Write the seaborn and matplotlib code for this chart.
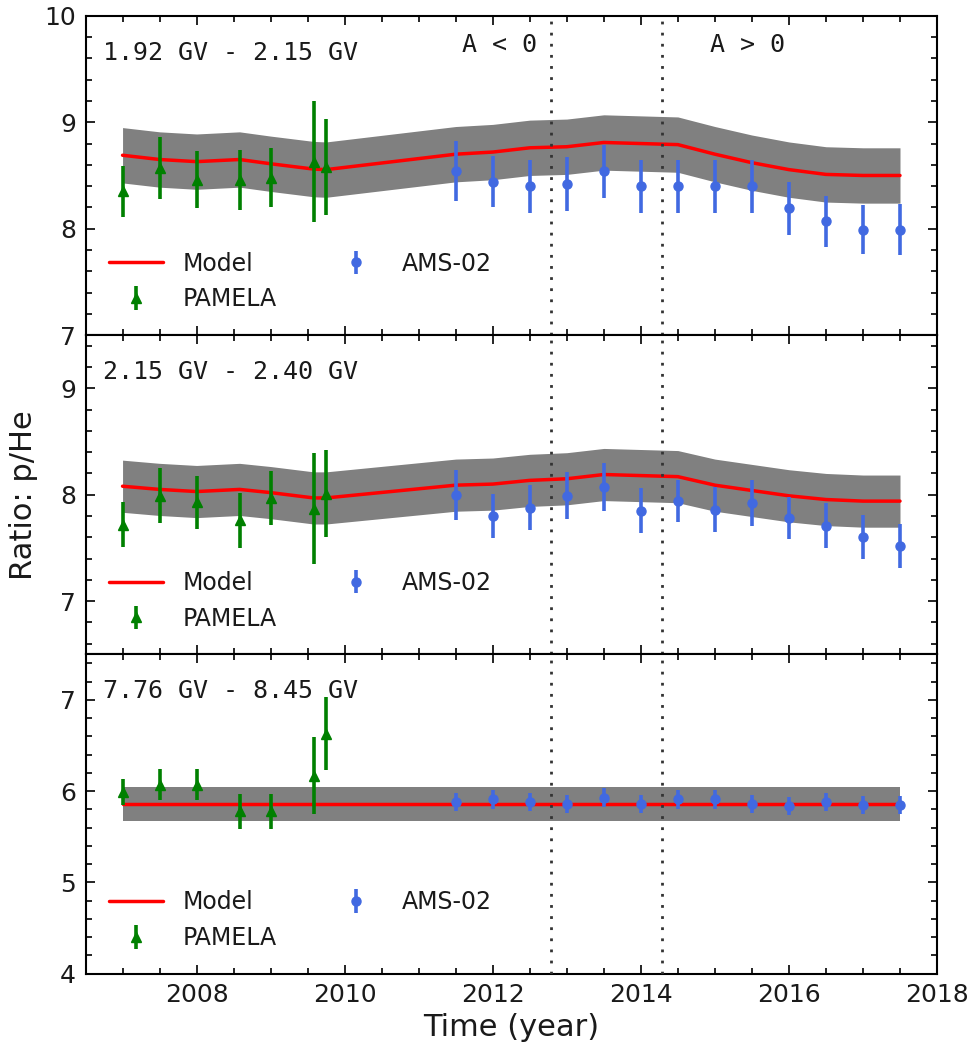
import numpy as np
import pandas as pd
import matplotlib
matplotlib.use('Agg')
import matplotlib.pyplot as plt
import seaborn as sns
from matplotlib.ticker import MultipleLocator

# observation times
t_pamela = [2007.0, 2007.5, 2008.0, 2008.58, 2009.0, 2009.58, 2009.75]
t_ams = [2011.5, 2012.0, 2012.5, 2013.0, 2013.5, 2014.0, 2014.5,
         2015.0, 2015.5, 2016.0, 2016.5, 2017.0, 2017.5]
t_model = t_pamela + t_ams

# panel 1: 1.92 - 2.15 GV
pam1 = [8.35, 8.57, 8.46, 8.46, 8.48, 8.63, 8.58]
pam1_err = [0.24, 0.29, 0.27, 0.28, 0.28, 0.57, 0.45]
ams1 = [8.54, 8.44, 8.40, 8.42, 8.54, 8.40, 8.40, 8.40, 8.40, 8.19, 8.07, 7.99, 7.99]
ams1_err = [0.28, 0.24, 0.25, 0.25, 0.25, 0.25, 0.25, 0.25, 0.25, 0.25, 0.24, 0.23, 0.24]
model1 = [8.69, 8.65, 8.63, 8.65, 8.61, 8.56, 8.555, 8.70, 8.72, 8.76,
          8.77, 8.81, 8.80, 8.79, 8.70, 8.62, 8.555, 8.51, 8.50, 8.50]
band1 = 0.26

# panel 2: 2.15 - 2.40 GV
pam2 = [7.72, 7.99, 7.93, 7.76, 7.97, 7.87, 8.01]
pam2_err = [0.21, 0.26, 0.25, 0.26, 0.25, 0.52, 0.41]
ams2 = [8.00, 7.80, 7.88, 7.99, 8.07, 7.85, 7.94, 7.86, 7.92, 7.78, 7.71, 7.60, 7.52]
ams2_err = [0.235, 0.21, 0.21, 0.22, 0.225, 0.21, 0.20, 0.21, 0.215, 0.20, 0.21, 0.205, 0.205]
model2 = [8.08, 8.05, 8.03, 8.05, 8.02, 7.97, 7.97, 8.09, 8.10, 8.135,
          8.15, 8.19, 8.18, 8.17, 8.09, 8.04, 7.99, 7.955, 7.94, 7.94]
band2 = 0.245

# panel 3: 7.76 - 8.45 GV
pam3 = [5.99, 6.07, 6.07, 5.78, 5.78, 6.17, 6.63]
pam3_err = [0.14, 0.17, 0.17, 0.19, 0.19, 0.42, 0.40]
ams3 = [5.88, 5.91, 5.88, 5.86, 5.93, 5.86, 5.91, 5.91, 5.86, 5.84, 5.885, 5.845, 5.845]
ams3_err = [0.10, 0.10, 0.10, 0.10, 0.10, 0.10, 0.10, 0.10, 0.10, 0.10, 0.10, 0.10, 0.10]
model3 = [5.86, 5.86, 5.86, 5.86, 5.86, 5.86, 5.86, 5.86, 5.86, 5.86,
          5.86, 5.86, 5.86, 5.86, 5.86, 5.86, 5.86, 5.86, 5.86, 5.86]
band3 = 0.19

ranges = ['1.92 GV - 2.15 GV', '2.15 GV - 2.40 GV', '7.76 GV - 8.45 GV']
ylims = [(7, 10), (6.5, 9.5), (4, 7.5)]
reversals = [2012.79, 2014.29]

panels = [(pam1, pam1_err, ams1, ams1_err, model1, band1),
          (pam2, pam2_err, ams2, ams2_err, model2, band2),
          (pam3, pam3_err, ams3, ams3_err, model3, band3)]

sns.set_style('ticks', {'axes.edgecolor': 'black', 'xtick.color': 'black',
                        'ytick.color': 'black', 'text.color': '#1a1a1a',
                        'axes.labelcolor': '#1a1a1a'})
plt.rcParams['font.family'] = ['DejaVu Sans']

fig, axes = plt.subplots(3, 1, figsize=(9.72, 10.56), dpi=100, sharex=True)
fig.subplots_adjust(left=0.088, right=0.964, top=0.985, bottom=0.078, hspace=0)

for i, ax in enumerate(axes):
    pam, pam_err, ams, ams_err, model, band = panels[i]
    df = pd.DataFrame({'t': t_model, 'ratio': model})
    ax.fill_between(df['t'], df['ratio'] - band, df['ratio'] + band,
                    color='gray', lw=0, zorder=1)
    sns.lineplot(data=df, x='t', y='ratio', ax=ax, color='red', lw=2.5,
                 label='Model', zorder=3)
    ax.errorbar(t_pamela, pam, yerr=pam_err, fmt='^', color='green', ms=6.5,
                elinewidth=2.6, capsize=0, label='PAMELA', zorder=4)
    ax.errorbar(t_ams, ams, yerr=ams_err, fmt='o', color='royalblue', ms=6.5,
                elinewidth=2.6, capsize=0, label='AMS-02', zorder=4)
    for xv in reversals:
        ax.axvline(xv, color='#333333', lw=2, linestyle=(0, (1, 3)), zorder=5)

    ax.set_xlim(2006.5, 2018)
    ax.set_ylim(*ylims[i])
    ax.xaxis.set_major_locator(MultipleLocator(2))
    ax.xaxis.set_minor_locator(MultipleLocator(0.5))
    ax.yaxis.set_major_locator(MultipleLocator(1))
    ax.yaxis.set_minor_locator(MultipleLocator(0.2))
    ax.tick_params(which='both', direction='in', top=True, right=True,
                   labelsize=18, pad=7, width=1.2, labelcolor='#1a1a1a')
    ax.tick_params(which='major', length=6.5)
    ax.tick_params(which='minor', length=4)
    for s in ax.spines.values():
        s.set_linewidth(1.5)
    ax.set_xlabel('')
    ax.set_ylabel('')

    ax.text(0.02, 0.885, ranges[i], transform=ax.transAxes, fontsize=18,
            family='DejaVu Sans Mono', va='center', ha='left')

    h, l = ax.get_legend_handles_labels()
    ax.legend(h, l, ncol=2, loc='lower left', frameon=False, fontsize=17,
              handlelength=2.3, handletextpad=0.8, columnspacing=2.2,
              borderaxespad=0.6)

axes[0].text(2011.58, 9.73, 'A < 0', fontsize=18, family='DejaVu Sans Mono',
             va='center', ha='left')
axes[0].text(2014.93, 9.73, 'A > 0', fontsize=18, family='DejaVu Sans Mono',
             va='center', ha='left')

axes[1].set_ylabel('Ratio: p/He', fontsize=22, labelpad=16)
axes[2].set_xlabel('Time (year)', fontsize=22, labelpad=4)

fig.savefig('out.png', dpi=100)
